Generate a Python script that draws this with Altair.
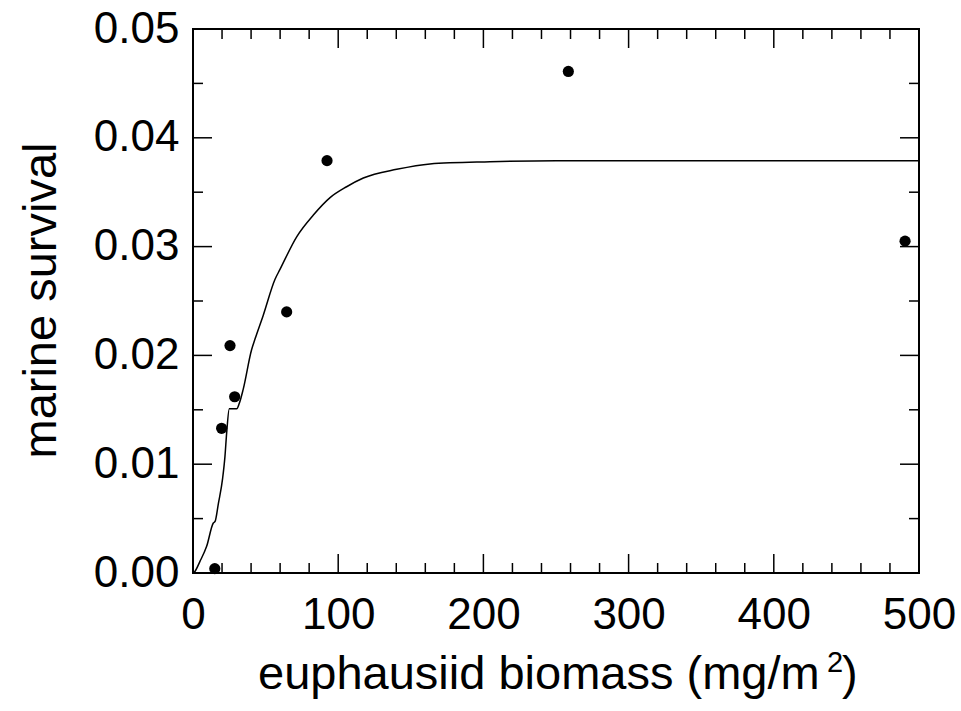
import altair as alt
import pandas as pd

# observed data points
obs_x = [15, 19.7, 25.5, 28.7, 64.5, 92.3, 258.5, 490.4]
obs_y = [0.0004, 0.0133, 0.0209, 0.0162, 0.0240, 0.0379, 0.0461, 0.0305]

# fitted curve
fit_x = [0, 0.7, 4.8, 9.4, 14, 15.2, 17.5, 20.4, 22, 23.2, 25, 30.1, 31.9, 34.6,
         40.3, 42.7, 48.4, 56.5, 59.9, 71.4, 82.9, 94.4, 105.8, 117.3, 140.3,
         163.2, 204.5, 250, 300, 400, 500]
fit_y = [0, 0.00005, 0.00107, 0.00245, 0.0046, 0.00474, 0.0064, 0.0087, 0.0107,
         0.0129, 0.0151, 0.0151, 0.0156, 0.0169, 0.0205, 0.0215, 0.0237, 0.0270,
         0.0279, 0.0309, 0.0329, 0.0345, 0.0355, 0.0363, 0.0371, 0.0376, 0.0378,
         0.0379, 0.0379, 0.0379, 0.0379]

x_major = [0, 100, 200, 300, 400, 500]
x_minor = [20, 40, 60, 80, 120, 140, 160, 180, 220, 240, 260, 280, 320, 340, 360,
           380, 420, 440, 460, 480]
y_major = [0.0, 0.01, 0.02, 0.03, 0.04, 0.05]
y_minor = [0.005, 0.015, 0.025, 0.035, 0.045]

x_title_main = "euphausiid biomass (mg/m"
x_title_sup = "2"
x_title_end = ")"
y_title = "marine survival"

W, H = 726, 544
FONT = "Liberation Sans"

xscale = alt.Scale(domain=[0, 500], nice=False, zero=False)
yscale = alt.Scale(domain=[0, 0.05], nice=False, zero=False)

xaxis = alt.Axis(values=x_major, title=None, format="d", labelPadding=20)
yaxis = alt.Axis(values=y_major, title=y_title, format=".2f", labelPadding=14,
                 titleX=-138, titleY=271, titleBaseline="alphabetic",
                 titleAngle=270)

X = lambda: alt.X("x:Q", scale=xscale, axis=xaxis)
Y = lambda: alt.Y("y:Q", scale=yscale, axis=yaxis)

fit_df = pd.DataFrame({"x": fit_x, "y": fit_y})
obs_df = pd.DataFrame({"x": obs_x, "y": obs_y})

line = alt.Chart(fit_df).mark_line(
    color="black", strokeWidth=1.5, interpolate="monotone"
).encode(x=X(), y=Y())

pts = alt.Chart(obs_df).mark_circle(color="black", opacity=1, size=125).encode(
    x=X(), y=Y())


def xticks(vals, length):
    df = pd.DataFrame({"x": vals})
    bottom = alt.Chart(df).mark_rule(color="black", strokeWidth=1.5).encode(
        x=X(), y=alt.value(H), y2=alt.value(H - length))
    top = alt.Chart(df).mark_rule(color="black", strokeWidth=1.5).encode(
        x=X(), y=alt.value(0), y2=alt.value(length))
    return [bottom, top]


def yticks(vals, length):
    df = pd.DataFrame({"y": vals})
    left = alt.Chart(df).mark_rule(color="black", strokeWidth=1.5).encode(
        y=Y(), x=alt.value(0), x2=alt.value(length))
    right = alt.Chart(df).mark_rule(color="black", strokeWidth=1.5).encode(
        y=Y(), x=alt.value(W), x2=alt.value(W - length))
    return [left, right]


tick_layers = xticks(x_major, 19) + xticks(x_minor, 10) + yticks(y_major, 19) + yticks(y_minor, 10)

t_main = alt.Chart(pd.DataFrame({"s": [x_title_main]})).mark_text(
    align="left", baseline="alphabetic", fontSize=47, font=FONT, color="black"
).encode(text="s:N", x=alt.value(65), y=alt.value(660))
t_sup = alt.Chart(pd.DataFrame({"s": [x_title_sup]})).mark_text(
    align="left", baseline="alphabetic", fontSize=29, font=FONT, color="black"
).encode(text="s:N", x=alt.value(634), y=alt.value(643))
t_end = alt.Chart(pd.DataFrame({"s": [x_title_end]})).mark_text(
    align="left", baseline="alphabetic", fontSize=47, font=FONT, color="black"
).encode(text="s:N", x=alt.value(649), y=alt.value(660))

chart = alt.layer(line, pts, *tick_layers, t_main, t_sup, t_end).properties(
    width=W, height=H,
    autosize=alt.AutoSizeParams(type="none"),
    padding={"left": 193, "top": 29, "right": 42, "bottom": 138},
    background="white",
).configure_view(
    stroke="black", strokeWidth=2
).configure_axis(
    ticks=False, domain=False, grid=False,
    labelFont=FONT, labelFontSize=44, labelColor="black",
    labelFlush=False, labelOverlap=False,
    titleFont=FONT, titleFontSize=47, titleFontWeight="normal", titleColor="black",
)

chart.save("out.html", embed_options={"renderer": "svg", "actions": False})
